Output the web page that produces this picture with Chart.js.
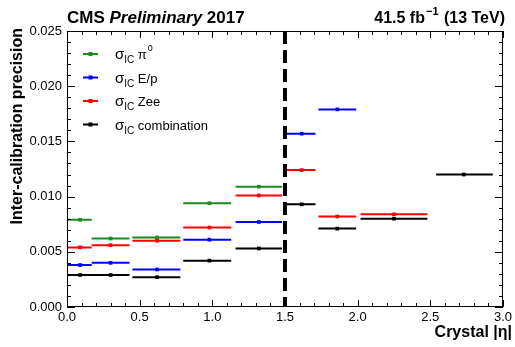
<!DOCTYPE html>
<html>
<head>
<meta charset="utf-8">
<script src="https://cdn.jsdelivr.net/npm/chart.js@4.4.1/dist/chart.umd.min.js"></script>
<style>
  body { margin: 0; background: #fff; }
  #wrap { width: 515px; height: 347px; position: relative; }
</style>
</head>
<body>
<div id="wrap"><canvas id="icChart"></canvas></div>
<script>
// bins in |eta| (x error bars) and bin centres
const etaLow  = [0.00, 0.17, 0.45, 0.80, 1.16, 1.51, 1.73, 2.02, 2.54];
const etaMid  = [0.09, 0.30, 0.62, 0.98, 1.32, 1.615, 1.86, 2.25, 2.73];
const etaHigh = [0.17, 0.43, 0.78, 1.13, 1.48, 1.71, 1.99, 2.48, 2.93];

// inter-calibration precision per method (null = not available)
const precPi0  = [0.0079, 0.0062, 0.0063, 0.0094, 0.0109, null, null, null, null];
const precEp   = [0.0038, 0.0040, 0.0034, 0.0061, 0.0077, 0.0157, 0.0179, null, null];
const precZee  = [0.0054, 0.0056, 0.0060, 0.0072, 0.0101, 0.0124, 0.0082, 0.0084, null];
const precComb = [0.0029, 0.0029, 0.0027, 0.0042, 0.0053, 0.0093, 0.0071, 0.0080, 0.0120];

const legendNames = ['π', 'E/p', 'Zee', 'combination'];
const colors = ['#1c8a1c', '#0000ff', '#ff0000', '#000000'];

const barrelEdge = 1.5;
const xRange = [0, 3];
const yRange = [0, 0.025];

const FONT = '"Liberation Sans", Arial, Helvetica, sans-serif';

function buildSeries(values) {
    const pts = [];
    values.forEach((v, i) => {
        if (v === null) return;
        pts.push({x: etaLow[i], y: v}, {x: etaMid[i], y: v}, {x: etaHigh[i], y: v}, {x: etaHigh[i], y: null});
    });
    return pts;
}

function seriesDataset(values, color) {
    return {
        data: buildSeries(values),
        showLine: true,
        spanGaps: false,
        borderColor: color,
        backgroundColor: color,
        borderWidth: 2,
        pointStyle: 'rect',
        pointRadius: ctx => (ctx.dataIndex % 4 === 1 ? 2.6 : 0),
        pointBorderWidth: 0
    };
}

// frame, inner ticks, title texts, legend
const decorations = {
    id: 'decorations',
    afterDraw(chart) {
        const {ctx, chartArea: a, scales: {x, y}} = chart;
        ctx.save();
        ctx.strokeStyle = '#000';
        ctx.lineWidth = 1;
        ctx.strokeRect(a.left + 0.5, a.top + 0.5, a.right - a.left - 1, a.bottom - a.top - 1);

        ctx.beginPath();
        for (let i = 0; i <= 30; i++) {
            const v = i * 0.1;
            const px = Math.round(x.getPixelForValue(v)) + 0.5;
            const len = i % 5 === 0 ? 7 : 4;
            ctx.moveTo(px, a.bottom); ctx.lineTo(px, a.bottom - len);
            ctx.moveTo(px, a.top); ctx.lineTo(px, a.top + len);
        }
        for (let i = 0; i <= 25; i++) {
            const v = i * 0.001;
            const py = Math.round(y.getPixelForValue(v)) + 0.5;
            const len = i % 5 === 0 ? 8 : 4;
            ctx.moveTo(a.left, py); ctx.lineTo(a.left + len, py);
            ctx.moveTo(a.right, py); ctx.lineTo(a.right - len, py);
        }
        ctx.stroke();

        ctx.fillStyle = '#000';
        ctx.textBaseline = 'alphabetic';
        // CMS Preliminary 2017
        let cx = a.left;
        ctx.textAlign = 'left';
        ctx.font = 'bold 17px ' + FONT;
        ctx.fillText('CMS ', cx, 23); cx += ctx.measureText('CMS ').width;
        ctx.font = 'italic bold 17px ' + FONT;
        ctx.fillText('Preliminary', cx, 23); cx += ctx.measureText('Preliminary').width;
        ctx.font = 'bold 17px ' + FONT;
        ctx.fillText(' 2017', cx, 23);

        // 41.5 fb^-1 (13 TeV)
        ctx.font = 'bold 16px ' + FONT;
        const w1 = ctx.measureText('41.5 fb').width;
        const w3 = ctx.measureText(' (13 TeV)').width;
        ctx.font = 'bold 11px ' + FONT;
        const w2 = ctx.measureText('−1').width + 2;
        let rx = 505 - (w1 + w2 + w3);
        ctx.font = 'bold 16px ' + FONT;
        ctx.fillText('41.5 fb', rx, 23); rx += w1;
        ctx.font = 'bold 11px ' + FONT;
        ctx.fillText('−1', rx + 1, 15); rx += w2;
        ctx.font = 'bold 16px ' + FONT;
        ctx.fillText(' (13 TeV)', rx, 23);

        // axis titles
        ctx.font = 'bold 16px ' + FONT;
        ctx.textAlign = 'right';
        ctx.textBaseline = 'middle';
        ctx.fillText('Crystal |η|', 512, 333);
        ctx.save();
        ctx.translate(18, 28);
        ctx.rotate(-Math.PI / 2);
        ctx.fillText('Inter-calibration precision', 0, 0);
        ctx.restore();

        // legend
        ctx.textAlign = 'left';
        ctx.textBaseline = 'alphabetic';
        legendNames.forEach((name, i) => {
            const ly = 54 + i * 23.5;
            ctx.strokeStyle = colors[i];
            ctx.fillStyle = colors[i];
            ctx.lineWidth = 2;
            ctx.beginPath(); ctx.moveTo(83, ly); ctx.lineTo(98, ly); ctx.stroke();
            ctx.fillRect(88.5, ly - 2, 4, 4);
            ctx.fillStyle = '#000';
            let tx = 115;
            ctx.font = '15px ' + FONT;
            ctx.fillText('σ', tx, ly + 5); tx += ctx.measureText('σ').width;
            ctx.font = '10px ' + FONT;
            ctx.fillText('IC', tx, ly + 9); tx += ctx.measureText('IC').width;
            ctx.font = '13px ' + FONT;
            ctx.fillText(' ' + name, tx, ly + 5);
            if (i === 0) {
                tx += ctx.measureText(' ' + name).width;
                ctx.font = '9px ' + FONT;
                ctx.fillText('0', tx + 1, ly - 3);
            }
        });
        ctx.restore();
    }
};

const datasets = [
    {
        data: [{x: barrelEdge, y: yRange[1]}, {x: barrelEdge, y: yRange[0]}],
        showLine: true,
        borderColor: '#000',
        borderWidth: 4,
        borderDash: [13, 6],
        pointRadius: 0
    },
    seriesDataset(precComb, colors[3]),
    seriesDataset(precZee, colors[2]),
    seriesDataset(precEp, colors[1]),
    seriesDataset(precPi0, colors[0])
];

new Chart(document.getElementById('icChart').getContext('2d'), {
    type: 'scatter',
    data: {datasets: datasets},
    options: {
        animation: false,
        responsive: true,
        maintainAspectRatio: false,
        layout: {padding: {top: 31, right: 12, left: 0, bottom: 0}},
        plugins: {legend: {display: false}, tooltip: {enabled: false}},
        scales: {
            x: {
                type: 'linear',
                min: xRange[0],
                max: xRange[1],
                grid: {display: false, drawTicks: false},
                border: {display: false},
                ticks: {
                    stepSize: 0.5,
                    padding: 3,
                    color: '#000',
                    font: {family: FONT, size: 13},
                    callback: v => v.toFixed(1)
                },
                afterFit: s => { s.height = 40; }
            },
            y: {
                type: 'linear',
                min: yRange[0],
                max: yRange[1],
                grid: {display: false, drawTicks: false},
                border: {display: false},
                ticks: {
                    stepSize: 0.005,
                    padding: 5,
                    color: '#000',
                    font: {family: FONT, size: 13},
                    callback: v => v.toFixed(3)
                },
                afterFit: s => { s.width = 67; }
            }
        }
    },
    plugins: [decorations]
});
</script>
</body>
</html>
